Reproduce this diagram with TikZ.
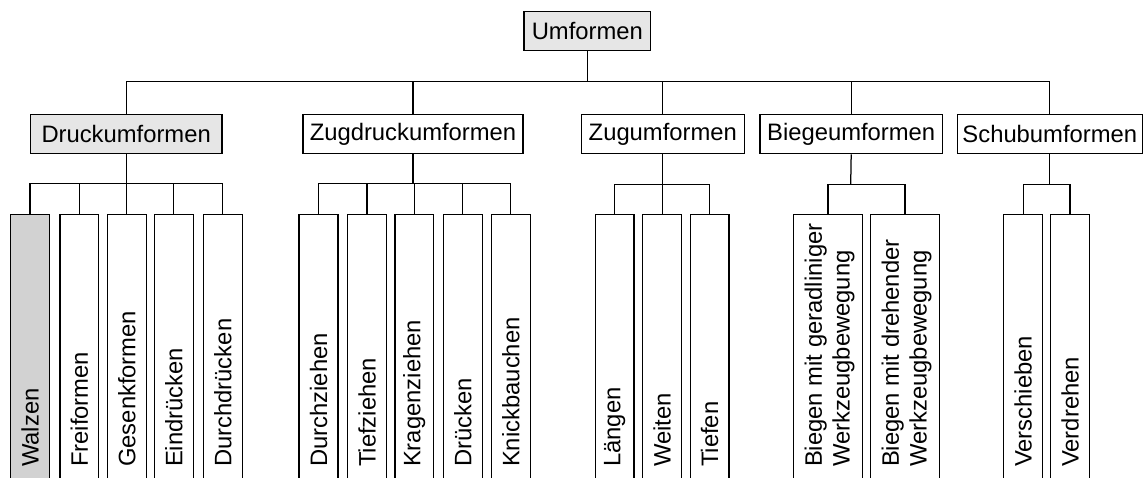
\documentclass[tikz,border=0pt]{standalone}
\usepackage{fontspec}
\setmainfont{Liberation Sans}
\definecolor{grayA}{RGB}{230,230,230}
\definecolor{grayB}{RGB}{210,210,210}
\begin{document}
\begin{tikzpicture}[x=1pt,y=1pt,line width=1.25pt,
  txt/.style={font=\fontsize{23.8}{27.7}\selectfont},
  box/.style={draw, txt, inner sep=0pt, minimum height=39.4pt},
  leaf/.style={draw, anchor=north, inner sep=0pt, minimum width=38.8pt, minimum height=281pt},
  wleaf/.style={leaf, minimum width=68.5pt},
  lt/.style={txt, rotate=90, anchor=west, inner sep=0pt, align=left}
]
\useasboundingbox (0,0) rectangle (1144,-477);
\clip (0,0) rectangle (1144,-477);

% top
\node[box, fill=grayA, minimum width=126.7pt, minimum height=39pt] (U) at (587.3,-31.2) {Umformen};

% level 2
\node[box, fill=grayA, minimum width=191.7pt] (D) at (126.15,-134) {Druckumformen};
\node[box, minimum width=220pt] (ZD) at (413,-134) {Zugdruckumformen};
\node[box, minimum width=163pt] (Z) at (662.8,-134) {Zugumformen};
\node[box, minimum width=182.3pt] (B) at (851.2,-134) {Biegeumformen};
\node[box, minimum width=185pt] (S) at (1049.8,-134) {Schubumformen};

\coordinate (b0) at (587.3,-81.3);
\draw (U.south) -- (b0);
\draw (D.north) -- (D.north |- b0) -- (S.north |- b0) -- (S.north);
\draw (ZD.north) -- (ZD.north |- b0);
\draw (Z.north) -- (Z.north |- b0);
\draw (B.north) -- (B.north |- b0);

% Druckumformen leaves
\node[leaf, fill=grayB] (d1) at (30,-214) {};
\node[leaf] (d2) at (79.4,-214) {};
\node[leaf] (d3) at (126.8,-214) {};
\node[leaf] (d4) at (173.8,-214) {};
\node[leaf] (d5) at (222.8,-214) {};
\node[lt] (td1) at (30,-467.5) {Walzen};
\node[lt] (td2) at (79.4,-467.5) {Freiformen};
\node[lt] (td3) at (126.8,-467.5) {Gesenkformen};
\node[lt] (td4) at (173.8,-467.5) {Eindrücken};
\node[lt] (td5) at (222.8,-467.5) {Durchdrücken};
\coordinate (bd) at (126.15,-183.7);
\draw (D.south) -- (bd);
\draw (d1.north) -- (d1.north |- bd) -- (d5.north |- bd) -- (d5.north);
\draw (d2.north) -- (d2.north |- bd);
\draw (d3.north) -- (d3.north |- bd);
\draw (d4.north) -- (d4.north |- bd);

% Zugdruckumformen leaves
\node[leaf] (z1) at (318.5,-214) {};
\node[leaf] (z2) at (367,-214) {};
\node[leaf] (z3) at (414.3,-214) {};
\node[leaf] (z4) at (462.8,-214) {};
\node[leaf] (z5) at (510.8,-214) {};
\node[lt] (tz1) at (318.5,-467.5) {Durchziehen};
\node[lt] (tz2) at (367,-467.5) {Tiefziehen};
\node[lt] (tz3) at (414.3,-467.5) {Kragenziehen};
\node[lt] (tz4) at (462.8,-467.5) {Drücken};
\node[lt] (tz5) at (510.8,-467.5) {Knickbauchen};
\coordinate (bz) at (413,-183.7);
\draw (ZD.south) -- (bz);
\draw (z1.north) -- (z1.north |- bz) -- (z5.north |- bz) -- (z5.north);
\draw (z2.north) -- (z2.north |- bz);
\draw (z3.north) -- (z3.north |- bz);
\draw (z4.north) -- (z4.north |- bz);

% Zugumformen leaves
\node[leaf] (g1) at (614.7,-214) {};
\node[leaf] (g2) at (662.2,-214) {};
\node[leaf] (g3) at (709.7,-214) {};
\node[lt] (tg1) at (614.7,-467.5) {Längen};
\node[lt] (tg2) at (662.2,-467.5) {Weiten};
\node[lt] (tg3) at (709.7,-467.5) {Tiefen};
\coordinate (bg) at (662.8,-184.5);
\draw (Z.south) -- (bg);
\draw (g1.north) -- (g1.north |- bg) -- (g3.north |- bg) -- (g3.north);
\draw (g2.north) -- (g2.north |- bg);

% Biegeumformen leaves
\node[wleaf] (e1) at (827.9,-214) {};
\node[wleaf] (e2) at (904.9,-214) {};
\node[lt] (te1) at (829.5,-467.5) {Biegen mit geradliniger\\Werkzeugbewegung};
\node[lt] (te2) at (906.5,-467.5) {Biegen mit drehender\\Werkzeugbewegung};
\coordinate (be) at (850.7,-184.5);
\draw (B.south) -- (be);
\draw (e1.north) -- (e1.north |- be) -- (e2.north |- be) -- (e2.north);

% Schubumformen leaves
\node[leaf] (s1) at (1023.2,-214) {};
\node[leaf] (s2) at (1070,-214) {};
\node[lt] (ts1) at (1023.2,-467.5) {Verschieben};
\node[lt] (ts2) at (1070,-467.5) {Verdrehen};
\coordinate (bs) at (1049.8,-184.5);
\draw (S.south) -- (bs);
\draw (s1.north) -- (s1.north |- bs) -- (s2.north |- bs) -- (s2.north);
\end{tikzpicture}
\end{document}
